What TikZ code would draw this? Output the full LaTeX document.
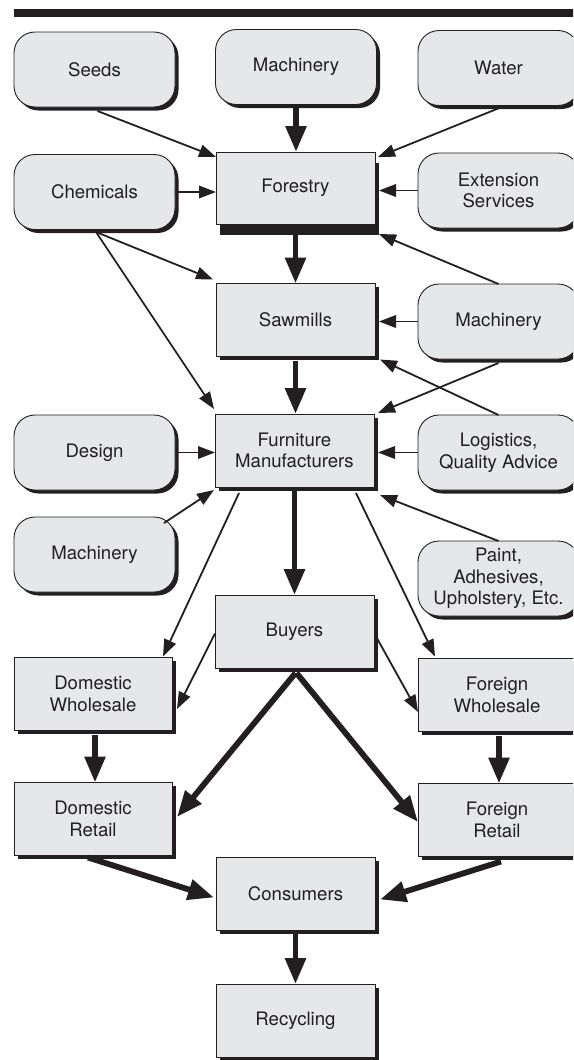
\documentclass[tikz,border=0pt]{standalone}
\usepackage{fontspec}
\setmainfont{TeX Gyre Heros}
\usetikzlibrary{arrows.meta,shadows,calc}
\definecolor{boxfill}{HTML}{E6E7E8}
\definecolor{ink}{HTML}{231F20}
\begin{document}
\begin{tikzpicture}[x=1pt,y=-1pt,
  base/.style={draw=ink, line width=0.9pt, fill=boxfill, inner sep=0pt, outer sep=0pt,
    align=center, text=ink, font=\fontsize{18.6}{21.5}\selectfont},
  shad/.style={general shadow={fill=ink, shadow xshift=3.5pt, shadow yshift=-3.5pt}},
  rbox/.style={base, shad, rounded corners=21pt, minimum width=161pt, minimum height=75pt},
  sbox/.style={base, shad, minimum width=159pt, minimum height=73pt},
  thinarr/.style={draw=ink, line width=1.8pt, -{Triangle[length=17pt,width=12.5pt]}},
  thickarr/.style={draw=ink, line width=5.8pt, -{Triangle[length=26pt,width=20pt]}},
]
\useasboundingbox (0,0) rectangle (573,1060);
\clip (0,0) rectangle (573,1060);

% top bar
\fill[ink] (14,9) rectangle (580,16.5);

% rounded input boxes
\node[rbox] (seeds)  at (94.5,69.5)  {Seeds};
\node[rbox] (mach1)  at (296,67)     {Machinery};
\node[rbox] (water)  at (498.5,68)   {Water};
\node[rbox] (chem)   at (94.5,192)   {Chemicals};
\node[rbox] (ext)    at (498.5,190.5){Extension\\Services};
\node[rbox] (mach2)  at (498.5,321.5){Machinery};
\node[rbox] (design) at (94.5,452.5) {Design};
\node[rbox] (logis)  at (498.5,452.5){Logistics,\\Quality Advice};
\node[rbox] (mach3)  at (94.5,554.5) {Machinery};
\node[rbox] (paint)  at (498.5,578.5){Paint,\\Adhesives,\\Upholstery, Etc.};

% square process boxes
\node[base, minimum width=159pt, minimum height=72pt,
  general shadow={fill=ink, shadow xshift=4pt, shadow yshift=-11pt}]
  (forestry) at (295.5,188) {Forestry};
\node[sbox] (sawmills)  at (295.5,320)   {Sawmills};
\node[sbox] (furn)      at (294.5,450.5) {Furniture\\Manufacturers};
\node[sbox] (buyers)    at (294.5,631.5) {Buyers};
\node[sbox, minimum width=158pt] (dwhole)  at (93,694)  {Domestic\\Wholesale};
\node[sbox, minimum width=158pt] (fwhole)  at (497,695) {Foreign\\Wholesale};
\node[sbox, minimum width=158pt] (dretail) at (93,819)  {Domestic\\Retail};
\node[sbox, minimum width=158pt] (fretail) at (497,820) {Foreign\\Retail};
\node[sbox] (consumers) at (295.5,893.5) {Consumers};
\node[sbox] (recycling) at (295.5,1020.5){Recycling};

% thin arrows
\draw[thinarr] ($(seeds.south)+(3,4)$) -- ($(forestry.north west)+(0,5)$);
\draw[thinarr] ($(water.south)+(2,2)$) -- ($(forestry.north east)+(3,5)$);
\draw[thinarr] (chem.east) -- (chem.east -| forestry.west);
\draw[thinarr] (ext.west) -- ($(ext.west -| forestry.east)+(4,0)$);
\draw[thinarr] ($(chem.south)+(1.5,2.5)$) -- ($(sawmills.north west)+(-3,-4)$);
\draw[thinarr] ($(chem.south)+(1.5,2.5)$) -- ($(furn.north west)+(-1,-5)$);
\draw[thinarr] (mach2.north) -- ($(forestry.south east)+(4,10)$);
\draw[thinarr] (mach2.west) -- ($(mach2.west -| sawmills.east)+(4,0)$);
\draw[thinarr] ($(mach2.south)+(0,4)$) -- ($(furn.north east)+(4,-1)$);
\draw[thinarr] (logis.north) -- ($(sawmills.south east)+(5,3)$);
\draw[thinarr] (design.east) -- (design.east -| furn.west);
\draw[thinarr] (logis.west) -- ($(logis.west -| furn.east)+(4,0)$);
\draw[thinarr] ($(mach3.north east)+(-11,6)$) -- ($(furn.south west)+(-1,3)$);
\draw[thinarr] (paint.north) -- ($(furn.south east)+(6,8)$);
\draw[thinarr] ($(furn.south west)+(24,6)$) -- ($(dwhole.north east)+(-9,-1)$);
\draw[thinarr] ($(furn.south east)+(-18,6)$) -- ($(fwhole.north west)+(17,-2)$);
\draw[thinarr] ($(buyers.west)+(0,2)$) -- ($(dwhole.east)+(5,15)$);
\draw[thinarr] ($(buyers.east)+(2,5)$) -- ($(fwhole.west)+(0,17)$);

% thick arrows
\draw[thickarr] ($(mach1.south)+(0,3.5)$) -- (mach1.south |- forestry.north);
\draw[thickarr] ($(forestry.south)+(0,11)$) -- (sawmills.north);
\draw[thickarr] ($(sawmills.south)+(0,4)$) -- (sawmills.south |- furn.north);
\draw[thickarr] ($(furn.south)+(0,4)$) -- (buyers.north);
\draw[thickarr] ($(buyers.south)+(1,5)$) -- ($(dretail.east)+(5,-2)$);
\draw[thickarr] ($(buyers.south)+(2,5)$) -- ($(fretail.west)+(0,2)$);
\draw[thickarr] ($(dwhole.south)+(2,4)$) -- ($(dretail.north)+(2,0)$);
\draw[thickarr] ($(fwhole.south)+(2,4)$) -- ($(fretail.north)+(2,0)$);
\draw[thickarr] ($(dretail.south)+(-5,2)$) -- ($(consumers.west)+(-2,4)$);
\draw[thickarr] ($(fretail.south)+(4,5)$) -- ($(consumers.east)+(5,6)$);
\draw[thickarr] ($(consumers.south)+(0,4)$) -- (recycling.north);
\end{tikzpicture}
\end{document}
